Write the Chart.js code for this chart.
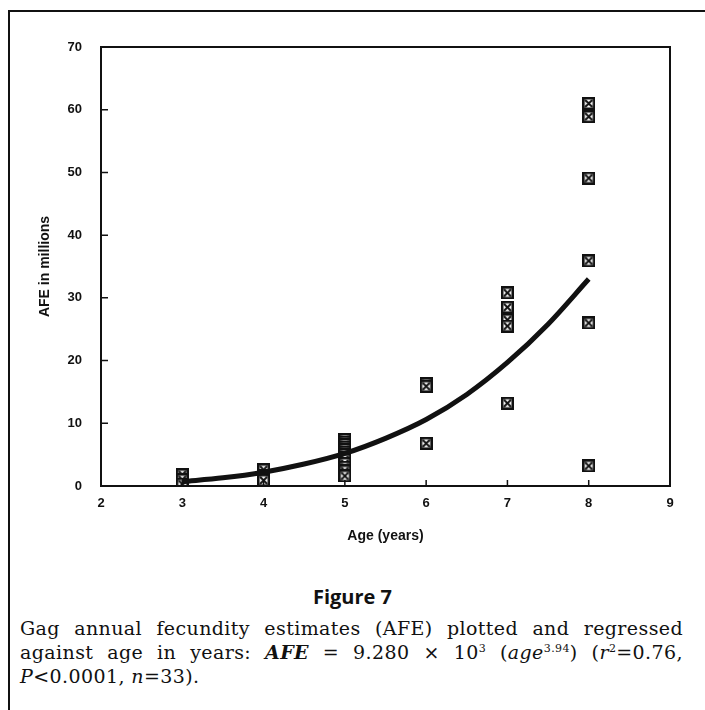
<!DOCTYPE html>
<html lang="en">
<head>
    <meta charset="UTF-8">
    <title>Figure 7</title>
    <script src="https://cdn.jsdelivr.net/npm/chart.js"></script>
    <style>
        body { margin: 0; background: #fff; width: 705px; height: 710px; overflow: hidden; position: relative; }
        #frame { position: absolute; left: 8px; top: 10px; width: 700px; height: 710px;
                 border-left: 2px solid #111; border-top: 2px solid #111; }
        #wrap { position: absolute; left: 0; top: 0; width: 705px; height: 560px; }
        #fig { position: absolute; left: 0; width: 705px; top: 583px; text-align: center;
               font: 700 20px "Open Sans", sans-serif; color: #111; }
        #caption { position: absolute; left: 20px; top: 616px; width: 663px;
                   font: 19px "DejaVu Serif", serif; letter-spacing: 0.4px; color: #111; line-height: 24px; }
        #caption div { white-space: nowrap; text-align: justify; text-align-last: justify; }
        #caption div.last { text-align-last: left; }
        sup { font-size: 11px; line-height: 0; }
    </style>
</head>
<body>
    <div id="frame"></div>
    <div id="wrap"><canvas id="chart"></canvas></div>
    <div id="fig">Figure 7</div>
    <div id="caption">
        <div>Gag annual fecundity estimates (AFE) plotted and regressed</div>
        <div>against age in years: <b><i>AFE</i></b> = 9.280 × 10<sup>3</sup> (<i>age</i><sup>3.94</sup>) (<i>r</i><sup>2</sup>=0.76,</div>
        <div class="last"><i>P</i>&lt;0.0001, <i>n</i>=33).</div>
    </div>
    <script>
        // observed fecundity, one entry per fish
        const obsAge = [3, 3, 3,
                        4, 4, 4,
                        5, 5, 5, 5, 5, 5, 5, 5, 5, 5, 5, 5, 5,
                        6, 6, 6,
                        7, 7, 7, 7, 7,
                        8, 8, 8, 8, 8, 8];
        const obsAfe = [1.8, 1.0, 0.3,
                        2.6, 1.7, 0.9,
                        7.4, 7.0, 6.6, 6.2, 5.8, 5.4, 5.0, 4.6, 4.2, 3.6, 3.0, 2.4, 1.6,
                        16.3, 15.9, 6.8,
                        30.8, 28.5, 26.5, 25.5, 13.2,
                        61.0, 58.9, 49.1, 35.9, 26.0, 3.2];

        // fitted curve
        const fitAge = [3, 3.5, 4, 4.5, 5, 5.5, 6, 6.5, 7, 7.5, 8];
        const fitAfe = [0.7, 1.3, 2.2, 3.5, 5.2, 7.6, 10.6, 14.6, 19.7, 25.8, 33.0];

        const xTicks = [2, 3, 4, 5, 6, 7, 8, 9];
        const yTicks = [0, 10, 20, 30, 40, 50, 60, 70];

        // boxed-cross marker
        function makeMarker() {
            const c = document.createElement('canvas');
            c.width = 13; c.height = 13;
            const g = c.getContext('2d');
            g.fillStyle = '#fff';
            g.fillRect(0, 0, 13, 13);
            g.strokeStyle = '#111';
            g.lineWidth = 2.5;
            g.strokeRect(1.25, 1.25, 10.5, 10.5);
            g.lineWidth = 2;
            g.beginPath();
            g.moveTo(3, 3); g.lineTo(10, 10);
            g.moveTo(10, 3); g.lineTo(3, 10);
            g.stroke();
            return c;
        }

        // box around plot and inward tick marks
        const frameTicks = {
            id: 'frameTicks',
            afterDraw(chart) {
                const ctx = chart.ctx;
                const a = chart.chartArea;
                const xs = chart.scales.x, ys = chart.scales.y;
                ctx.save();
                ctx.strokeStyle = '#111';
                ctx.lineWidth = 2;
                ctx.strokeRect(a.left, a.top, a.right - a.left, a.bottom - a.top);
                ctx.lineWidth = 1.5;
                ctx.beginPath();
                xTicks.slice(1, -1).forEach(v => {
                    const px = xs.getPixelForValue(v);
                    ctx.moveTo(px, a.bottom); ctx.lineTo(px, a.bottom - 6);
                });
                yTicks.slice(1, -1).forEach(v => {
                    const py = ys.getPixelForValue(v);
                    ctx.moveTo(a.left, py); ctx.lineTo(a.left + 7, py);
                });
                ctx.stroke();
                ctx.restore();
            }
        };

        const tickFont = { family: 'Liberation Sans', size: 13, weight: 'bold' };
        const titleFont = { family: 'Liberation Sans', size: 14, weight: 'bold' };

        new Chart(document.getElementById('chart'), {
            type: 'scatter',
            data: {
                datasets: [{
                    type: 'line',
                    data: fitAge.map((x, i) => ({ x: x, y: fitAfe[i] })),
                    borderColor: '#111',
                    borderWidth: 5,
                    pointRadius: 0,
                    cubicInterpolationMode: 'monotone',
                    fill: false
                }, {
                    data: obsAge.map((x, i) => ({ x: x, y: obsAfe[i] })),
                    pointStyle: makeMarker(),
                    pointRadius: 6
                }]
            },
            options: {
                responsive: true,
                maintainAspectRatio: false,
                animation: false,
                events: [],
                layout: { padding: { top: 47, right: 35, left: 0, bottom: 0 } },
                plugins: { legend: { display: false }, tooltip: { enabled: false } },
                scales: {
                    x: {
                        type: 'linear', min: 2, max: 9,
                        afterBuildTicks: s => { s.ticks = xTicks.map(v => ({ value: v })); },
                        afterFit: s => { s.height = 74; },
                        grid: { display: false, drawTicks: false },
                        border: { display: false },
                        ticks: { font: tickFont, color: '#111', padding: 10 },
                        title: { display: true, text: 'Age (years)', font: titleFont, color: '#111',
                                 padding: { top: 0, bottom: 15 } }
                    },
                    y: {
                        min: 0, max: 70,
                        afterBuildTicks: s => { s.ticks = yTicks.map(v => ({ value: v })); },
                        afterFit: s => { s.width = 101; },
                        grid: { display: false, drawTicks: false },
                        border: { display: false },
                        ticks: { font: tickFont, color: '#111', padding: 19 },
                        title: { display: true, text: 'AFE in millions', font: titleFont, color: '#111',
                                 padding: { top: 37, bottom: 0 } }
                    }
                }
            },
            plugins: [frameTicks]
        });
    </script>
</body>
</html>
